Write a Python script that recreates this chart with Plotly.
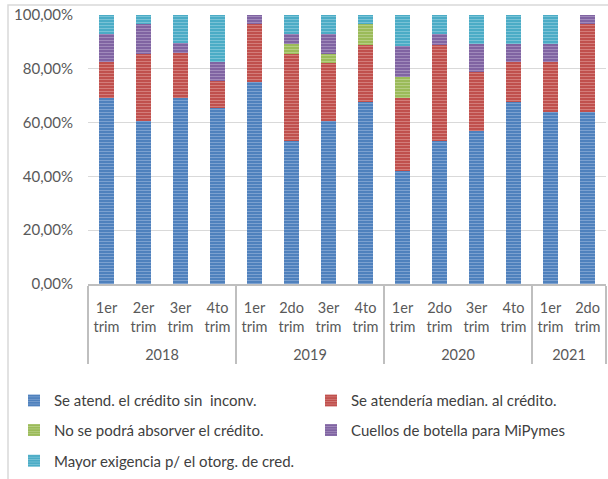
import plotly.graph_objects as go

years = ["2018"] * 4 + ["2019"] * 4 + ["2020"] * 4 + ["2021"] * 2
quarters = ["1er<br>trim", "2er<br>trim", "3er<br>trim", "4to<br>trim",
            "1er<br>trim", "2do<br>trim", "3er<br>trim", "4to<br>trim",
            "1er<br>trim", "2do<br>trim", "3er<br>trim", "4to<br>trim",
            "1er<br>trim", "2do<br>trim"]
# order in which the quarter labels must rank inside every year
quarter_rank = ["1er<br>trim", "2er<br>trim", "2do<br>trim", "3er<br>trim", "4to<br>trim"]

sin_inconv = [69.0, 60.5, 69.0, 65.5, 75.0, 53.2, 60.5, 67.7, 42.0, 53.2, 57.0, 67.7, 64.0, 64.0]
median_credito = [13.6, 25.0, 17.0, 10.1, 21.5, 32.2, 21.5, 21.2, 27.0, 35.7, 21.7, 14.7, 18.4, 32.5]
no_absorber = [0, 0, 0, 0, 0, 3.7, 3.4, 7.6, 7.8, 0, 0, 0, 0, 0]
cuellos = [10.3, 11.0, 3.7, 7.0, 3.5, 3.7, 7.4, 0, 11.7, 3.9, 10.4, 6.7, 6.7, 3.5]
mayor_exig = [7.1, 3.5, 10.3, 17.4, 0, 7.2, 7.2, 3.5, 11.5, 7.2, 10.9, 10.9, 10.9, 0]

series = [
    ("Se atend. el crédito sin  inconv.", sin_inconv, "#4f81bd", "#a9c1e3", "legend"),
    ("Se atendería median. al crédito.", median_credito, "#c0504d", "#e6a9a7", "legend"),
    ("No se podrá absorver el crédito.", no_absorber, "#9bbb59", "#cfe0ae", "legend2"),
    ("Cuellos de botella para MiPymes", cuellos, "#8064a2", "#bfb0d3", "legend2"),
    ("Mayor exigencia p/ el otorg. de cred.", mayor_exig, "#4bacc6", "#a7d8e6", "legend3"),
]

W, H = 608, 479
L, R, T, B = 88, 2, 15, 192
PW, PH = W - L - R, H - T - B

def px_x(x):
    return (x - L) / PW

def px_y(y):
    return (H - B - y) / PH

PAD = "<br>\u00a0"  # extra blank line below the quarter labels
qlabels = [q + PAD for q in quarters]

fig = go.Figure()
# invisible helper trace: fixes the ranking of the quarter labels within each year
rank_years = [years[quarters.index(q)] for q in quarter_rank]
fig.add_trace(go.Bar(x=[rank_years, [q + PAD for q in quarter_rank]], y=[None] * len(quarter_rank),
                     showlegend=False, hoverinfo="skip"))
for name, vals, col, light, lg in series:
    fig.add_trace(go.Bar(
        x=[years, qlabels], y=[v / 100 for v in vals], name=name,
        marker=dict(color=col, line=dict(width=0),
                    pattern=dict(shape="-", fgcolor=light, size=3, solidity=0.35, fillmode="overlay")),
        legend=lg,
    ))

font_fam = "Lato, 'Open Sans', sans-serif"
txt = "#595959"
leg_common = dict(orientation="h", xref="paper", yref="paper", xanchor="left",
                  yanchor="middle", entrywidth=252, entrywidthmode="pixels",
                  traceorder="normal",
                  font=dict(family=font_fam, size=15, color="#404040"),
                  bgcolor="rgba(0,0,0,0)", itemclick=False)

fig.update_layout(
    width=W, height=H,
    barmode="stack", bargap=0.61,
    separators=",.",
    margin=dict(l=L, r=R, t=T, b=B),
    paper_bgcolor="white", plot_bgcolor="white",
    font=dict(family=font_fam, size=14.5, color=txt),
    legend=dict(x=px_x(14), y=px_y(405), **leg_common),
    legend2=dict(x=px_x(14), y=px_y(435), **leg_common),
    legend3=dict(x=px_x(14), y=px_y(466), **leg_common),
    xaxis=dict(type="multicategory", showline=True, linecolor="#bfbfbf", linewidth=2,
               ticks="", showdividers=True, dividercolor="#bfbfbf", dividerwidth=2,
               ticklabelstandoff=10,
               tickfont=dict(family=font_fam, size=14.5, color=txt)),
    yaxis=dict(range=[0, 1], tickvals=[0, 0.2, 0.4, 0.6, 0.8, 1.0], tickformat=".2%",
               showgrid=True, gridcolor="#d9d9d9", gridwidth=1, zeroline=False,
               showline=False, ticks="", ticklabelstandoff=14,
               tickfont=dict(family=font_fam, size=15, color=txt)),
    shapes=[dict(type="rect", xref="paper", yref="paper",
                 x0=px_x(8), x1=px_x(620), y0=px_y(490), y1=px_y(5),
                 line=dict(color="#d9d9d9", width=1.5), fillcolor="rgba(0,0,0,0)", layer="below")],
)

fig.write_html("out.html", config={"displayModeBar": False},
               post_script="document.body.style.margin='0';")
